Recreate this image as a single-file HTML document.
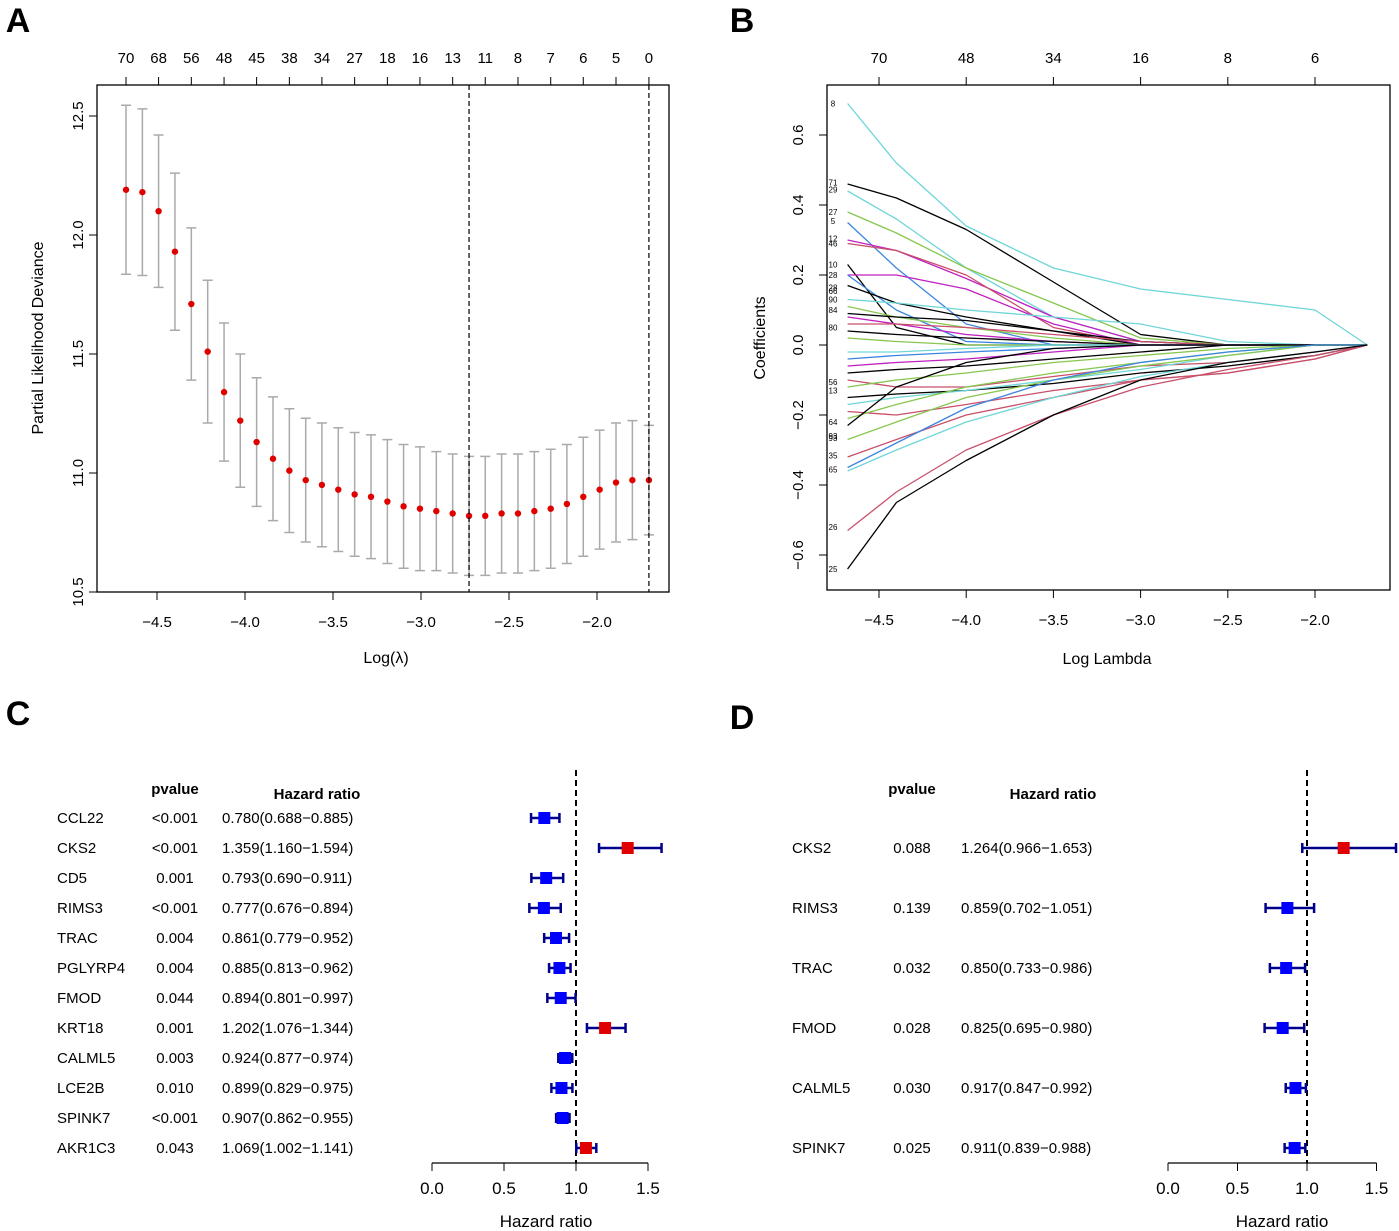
<!DOCTYPE html>
<html><head><meta charset="utf-8"><style>
body{margin:0;background:#fff;}
svg{display:block;font-family:"Liberation Sans",Arial,sans-serif;}
</style></head><body>
<svg id="fig" width="1399" height="1231" viewBox="0 0 1399 1231" xmlns="http://www.w3.org/2000/svg">
<g id="pA"></g>
<g id="pB"></g>
<g id="pC"></g>
<g id="pD"></g>
</svg>
<script>
// ---------- Panel A data ----------
const cvLambda = [-4.676,-4.583,-4.491,-4.398,-4.305,-4.212,-4.119,-4.027,-3.934,-3.841,-3.748,-3.655,-3.563,-3.470,-3.377,-3.284,-3.191,-3.099,-3.006,-2.913,-2.820,-2.727,-2.635,-2.542,-2.449,-2.356,-2.263,-2.171,-2.078,-1.985,-1.892,-1.799,-1.705];
const cvMean = [12.19,12.18,12.10,11.93,11.71,11.51,11.34,11.22,11.13,11.06,11.01,10.97,10.95,10.93,10.91,10.90,10.88,10.86,10.85,10.84,10.83,10.82,10.82,10.83,10.83,10.84,10.85,10.87,10.90,10.93,10.96,10.97,10.97];
const cvSE = [0.355,0.35,0.32,0.33,0.32,0.30,0.29,0.28,0.27,0.26,0.26,0.26,0.26,0.26,0.26,0.26,0.26,0.26,0.26,0.25,0.25,0.25,0.25,0.25,0.25,0.25,0.25,0.25,0.25,0.25,0.25,0.25,0.23];
const topLabelsA = ["70","68","56","48","45","38","34","27","18","16","13","11","8","7","6","5","0"];
const xTicksA = [-4.5,-4.0,-3.5,-3.0,-2.5,-2.0];
const yTicksA = [10.5,11.0,11.5,12.0,12.5];
const vlinesA = [-2.727,-1.705];

// ---------- Panel B data ----------
const knotLambda = [-4.68,-4.4,-4.0,-3.5,-3.0,-2.5,-2.0,-1.7];
const pathColors = ["#6fd6d8","#000","#6fd6d8","#86c750","#3a86e0","#c020c0","#c8506a","#000","#c020c0","#3a86e0","#000","#6fd6d8","#86c750","#000","#c020c0","#c8506a","#000","#86c750","#6fd6d8","#3a86e0","#c020c0","#000","#c8506a","#86c750","#000","#6fd6d8","#c8506a","#86c750","#000","#86c750","#c8506a","#6fd6d8","#3a86e0","#c8506a","#000"];
const pathValues = [
[0.69,0.52,0.34,0.22,0.16,0.13,0.10,0],
[0.46,0.42,0.33,0.18,0.03,0,0,0],
[0.44,0.36,0.22,0.08,0.01,0,0,0],
[0.38,0.32,0.22,0.12,0.02,0,0,0],
[0.35,0.22,0.06,0,0,0,0,0],
[0.30,0.27,0.19,0.08,0.01,0,0,0],
[0.29,0.27,0.20,0.05,0,0,0,0],
[0.23,0.05,0,0,0,0,0,0],
[0.20,0.20,0.16,0.06,0,0,0,0],
[0.20,0.10,0.01,0,0,0,0,0],
[0.17,0.12,0.08,0.04,0,0,0,0],
[0.13,0.12,0.10,0.08,0.06,0.01,0,0],
[0.11,0.08,0.05,0.02,0,0,0,0],
[0.09,0.08,0.07,0.04,0.01,0,0,0],
[0.08,0.06,0.03,0.01,0,0,0,0],
[0.06,0.06,0.05,0.03,0.01,0,0,0],
[0.04,0.03,0.02,0.01,0,0,0,0],
[0.02,0.01,0,0,0,0,0,0],
[-0.02,-0.02,-0.01,0,0,0,0,0],
[-0.04,-0.03,-0.02,-0.01,0,0,0,0],
[-0.06,-0.05,-0.04,-0.02,0,0,0,0],
[-0.08,-0.07,-0.06,-0.04,-0.02,0,0,0],
[-0.10,-0.12,-0.12,-0.09,-0.06,-0.05,-0.02,0],
[-0.12,-0.10,-0.08,-0.05,-0.03,-0.01,0,0],
[-0.15,-0.14,-0.13,-0.11,-0.08,-0.06,-0.03,0],
[-0.17,-0.15,-0.13,-0.10,-0.07,-0.03,0,0],
[-0.19,-0.20,-0.17,-0.13,-0.10,-0.08,-0.04,0],
[-0.21,-0.17,-0.12,-0.08,-0.05,-0.02,0,0],
[-0.23,-0.12,-0.05,-0.01,0,0,0,0],
[-0.27,-0.22,-0.15,-0.10,-0.06,-0.03,0,0],
[-0.32,-0.27,-0.20,-0.15,-0.10,-0.08,-0.04,0],
[-0.36,-0.30,-0.22,-0.15,-0.09,-0.05,-0.02,0],
[-0.35,-0.28,-0.18,-0.10,-0.05,-0.02,0,0],
[-0.53,-0.42,-0.30,-0.20,-0.12,-0.07,-0.03,0],
[-0.64,-0.45,-0.33,-0.20,-0.10,-0.05,-0.02,0]];
const varLabels = ["8","71","29","27","5","12","46","10","28","28","66","90","84","80","93","13","56","64","93","35","65","26","25"];
const varLabelVals = [0.69,0.465,0.445,0.38,0.355,0.305,0.29,0.23,0.20,0.165,0.155,0.13,0.10,0.05,-0.26,-0.13,-0.105,-0.22,-0.265,-0.315,-0.355,-0.52,-0.64];
const topLabelsB = ["70","48","34","16","8","6"];
const topLabelPosB = [-4.5,-4.0,-3.5,-3.0,-2.5,-2.0];
const xTicksB = [-4.5,-4.0,-3.5,-3.0,-2.5,-2.0];
const yTicksB = [-0.6,-0.4,-0.2,0.0,0.2,0.4,0.6];

// ---------- Panel C data ----------
const genesC = ["CCL22","CKS2","CD5","RIMS3","TRAC","PGLYRP4","FMOD","KRT18","CALML5","LCE2B","SPINK7","AKR1C3"];
const pvalC = ["<0.001","<0.001","0.001","<0.001","0.004","0.004","0.044","0.001","0.003","0.010","<0.001","0.043"];
const hrC = [0.780,1.359,0.793,0.777,0.861,0.885,0.894,1.202,0.924,0.899,0.907,1.069];
const lowC = [0.688,1.160,0.690,0.676,0.779,0.813,0.801,1.076,0.877,0.829,0.862,1.002];
const highC = [0.885,1.594,0.911,0.894,0.952,0.962,0.997,1.344,0.974,0.975,0.955,1.141];
// ---------- Panel D data ----------
const genesD = ["CKS2","RIMS3","TRAC","FMOD","CALML5","SPINK7"];
const pvalD = ["0.088","0.139","0.032","0.028","0.030","0.025"];
const hrD = [1.264,0.859,0.850,0.825,0.917,0.911];
const lowD = [0.966,0.702,0.733,0.695,0.847,0.839];
const highD = [1.653,1.051,0.986,0.980,0.992,0.988];
const hrTicks = [0.0,0.5,1.0,1.5];

const NS="http://www.w3.org/2000/svg";
function mk(parent,tag,attrs,text){const e=document.createElementNS(NS,tag);for(const k in attrs)e.setAttribute(k,attrs[k]);if(text!==undefined)e.textContent=text;parent.appendChild(e);return e;}
const fmt1=v=>v.toFixed(1);

// ========== Panel A ==========
(function(){
const g=document.getElementById('pA');
const X=v=>157+(v+4.5)*176, Y=v=>592-(v-10.5)*238;
let t=mk(g,'text',{x:18,y:32,'font-size':34,'font-weight':'bold','text-anchor':'middle'},'A');


let r=mk(g,'rect',{x:97,y:85,width:572,height:507,fill:'none',stroke:'#000','stroke-width':1.3});


xTicksA.forEach(v=>{mk(g,'line',{x1:X(v),x2:X(v),y1:592,y2:600,stroke:'#000'});
 const l=mk(g,'text',{x:X(v),y:627,'font-size':15,'text-anchor':'middle'},(v<0?'\u2212':'')+Math.abs(v).toFixed(1));
 
 });
yTicksA.forEach(v=>{mk(g,'line',{x1:89,x2:97,y1:Y(v),y2:Y(v),stroke:'#000'});
 const l=mk(g,'text',{x:83,y:Y(v),'font-size':15,'text-anchor':'middle',transform:`rotate(-90 83 ${Y(v)})`},fmt1(v));
 
 });
cvLambda.forEach((lam,i)=>{ if(i%2) return; const k=i/2; if(k>=topLabelsA.length) return;
 mk(g,'line',{x1:X(lam),x2:X(lam),y1:85,y2:77,stroke:'#000'});
 const l=mk(g,'text',{x:X(lam),y:63,'font-size':15,'text-anchor':'middle'},topLabelsA[k]);
 
 });
cvLambda.forEach((lam,i)=>{const x=X(lam),hi=Y(cvMean[i]+cvSE[i]),lo=Y(cvMean[i]-cvSE[i]);
 const e=mk(g,'path',{d:`M${x-5},${hi}H${x+5}M${x},${hi}V${lo}M${x-5},${lo}H${x+5}`,stroke:'#aaa','stroke-width':1.5,fill:'none'});
 
 });
cvLambda.forEach((lam,i)=>{const c=mk(g,'circle',{cx:X(lam),cy:Y(cvMean[i]),r:3.2,fill:'#e00000'});
 
 });
vlinesA.forEach(v=>{const l=mk(g,'line',{x1:X(v),x2:X(v),y1:85,y2:592,stroke:'#000','stroke-dasharray':'5,3','stroke-width':1.2});
 
 });
t=mk(g,'text',{x:386,y:663,'font-size':16,'text-anchor':'middle'},'Log(\u03bb)');


t=mk(g,'text',{x:43,y:338,'font-size':16,'text-anchor':'middle',transform:'rotate(-90 43 338)'},'Partial Likelihood Deviance');


})();

// ========== Panel B ==========
(function(){
const g=document.getElementById('pB');
const X=v=>879+(v+4.5)*174.4, Y=v=>345-v*350;
let t=mk(g,'text',{x:742,y:32,'font-size':34,'font-weight':'bold','text-anchor':'middle'},'B');


const cl=mk(g,'clipPath',{id:'clipB'});mk(cl,'rect',{x:827,y:85,width:563,height:505});
const lines=mk(g,'g',{'clip-path':'url(#clipB)'});
pathValues.forEach((vals,i)=>{const d=vals.map((v,j)=>(j?'L':'M')+X(knotLambda[j]).toFixed(1)+','+Y(v).toFixed(1)).join('');
 const p=mk(lines,'path',{d,stroke:pathColors[i],fill:'none','stroke-width':1.3,'stroke-linejoin':'round'});
 
 });
let r=mk(g,'rect',{x:827,y:85,width:563,height:505,fill:'none',stroke:'#000','stroke-width':1.3});


varLabels.forEach((s,i)=>{const l=mk(g,'text',{x:833,y:Y(varLabelVals[i])+3,'font-size':8,'text-anchor':'middle'},s);
 
 });
xTicksB.forEach(v=>{mk(g,'line',{x1:X(v),x2:X(v),y1:590,y2:598,stroke:'#000'});
 const l=mk(g,'text',{x:X(v),y:625,'font-size':15,'text-anchor':'middle'},'\u2212'+Math.abs(v).toFixed(1));
 
 });
yTicksB.forEach(v=>{mk(g,'line',{x1:819,x2:827,y1:Y(v),y2:Y(v),stroke:'#000'});
 const s=(v<0?'\u2212':'')+Math.abs(v).toFixed(1);
 const l=mk(g,'text',{x:803,y:Y(v),'font-size':15,'text-anchor':'middle',transform:`rotate(-90 803 ${Y(v)})`},s);
 
 });
topLabelsB.forEach((s,i)=>{const x=X(topLabelPosB[i]);mk(g,'line',{x1:x,x2:x,y1:85,y2:77,stroke:'#000'});
 const l=mk(g,'text',{x,y:63,'font-size':15,'text-anchor':'middle'},s);
 
 });
t=mk(g,'text',{x:1107,y:664,'font-size':16,'text-anchor':'middle'},'Log Lambda');


t=mk(g,'text',{x:765,y:338,'font-size':16,'text-anchor':'middle',transform:'rotate(-90 765 338)'},'Coefficients');


})();

// ========== Forest plots ==========
function forest(gid,letter,lx,ly,genes,pv,hr,lo,hi,opt){
const g=document.getElementById(gid);
const X=v=>opt.x0+v*opt.scale;
let t=mk(g,'text',{x:lx,y:ly,'font-size':34,'font-weight':'bold','text-anchor':'middle'},letter);


t=mk(g,'text',{x:opt.pvX,y:opt.headY,'font-size':15,'font-weight':'bold','text-anchor':'middle'},'pvalue');


t=mk(g,'text',{x:opt.hrHX,y:opt.headY+5,'font-size':15,'font-weight':'bold','text-anchor':'middle'},'Hazard ratio');


const dl=mk(g,'line',{x1:X(1),x2:X(1),y1:opt.dashTop,y2:1163,stroke:'#000','stroke-dasharray':'6,4','stroke-width':2});


genes.forEach((gn,i)=>{const y=opt.y0+i*opt.dy;
 let a=mk(g,'text',{x:opt.geneX,y:y+5,'font-size':15},gn);
 
 
 a=mk(g,'text',{x:opt.pvX,y:y+5,'font-size':15,'text-anchor':'middle'},pv[i]);
 
 
 a=mk(g,'text',{x:opt.hrX,y:y+5,'font-size':15},`${hr[i].toFixed(3)}(${lo[i].toFixed(3)}\u2212${hi[i].toFixed(3)})`);
 
 
 const x1=X(lo[i]),x2=Math.min(X(hi[i]),1396);
 const ci=mk(g,'path',{d:`M${x1},${y}H${x2}M${x1},${y-5}V${y+5}M${x2},${y-5}V${y+5}`,stroke:'#00008b','stroke-width':2.5,fill:'none'});
 
 
 const b=mk(g,'rect',{x:X(hr[i])-6,y:y-6,width:12,height:12,fill:hr[i]>1?'#e00000':'#0000ff'});
 
 });
mk(g,'line',{x1:X(0),x2:X(1.5),y1:1163,y2:1163,stroke:'#000','stroke-width':1.3});
hrTicks.forEach(v=>{mk(g,'line',{x1:X(v),x2:X(v),y1:1163,y2:1171,stroke:'#000'});
 const l=mk(g,'text',{x:X(v),y:1194,'font-size':17,'text-anchor':'middle'},v.toFixed(1));
 
 });
t=mk(g,'text',{x:opt.titleX,y:1227,'font-size':17,'text-anchor':'middle'},'Hazard ratio');


}
forest('pC','C',18,725,genesC,pvalC,hrC,lowC,highC,{x0:432,scale:144,y0:818,dy:30,geneX:57,pvX:175,hrX:222,hrHX:317,headY:794,dashTop:770,titleX:546});
forest('pD','D',742,729,genesD,pvalD,hrD,lowD,highD,{x0:1168,scale:139,y0:848,dy:60,geneX:792,pvX:912,hrX:961,hrHX:1053,headY:794,dashTop:770,titleX:1282});
</script>
</body></html>
